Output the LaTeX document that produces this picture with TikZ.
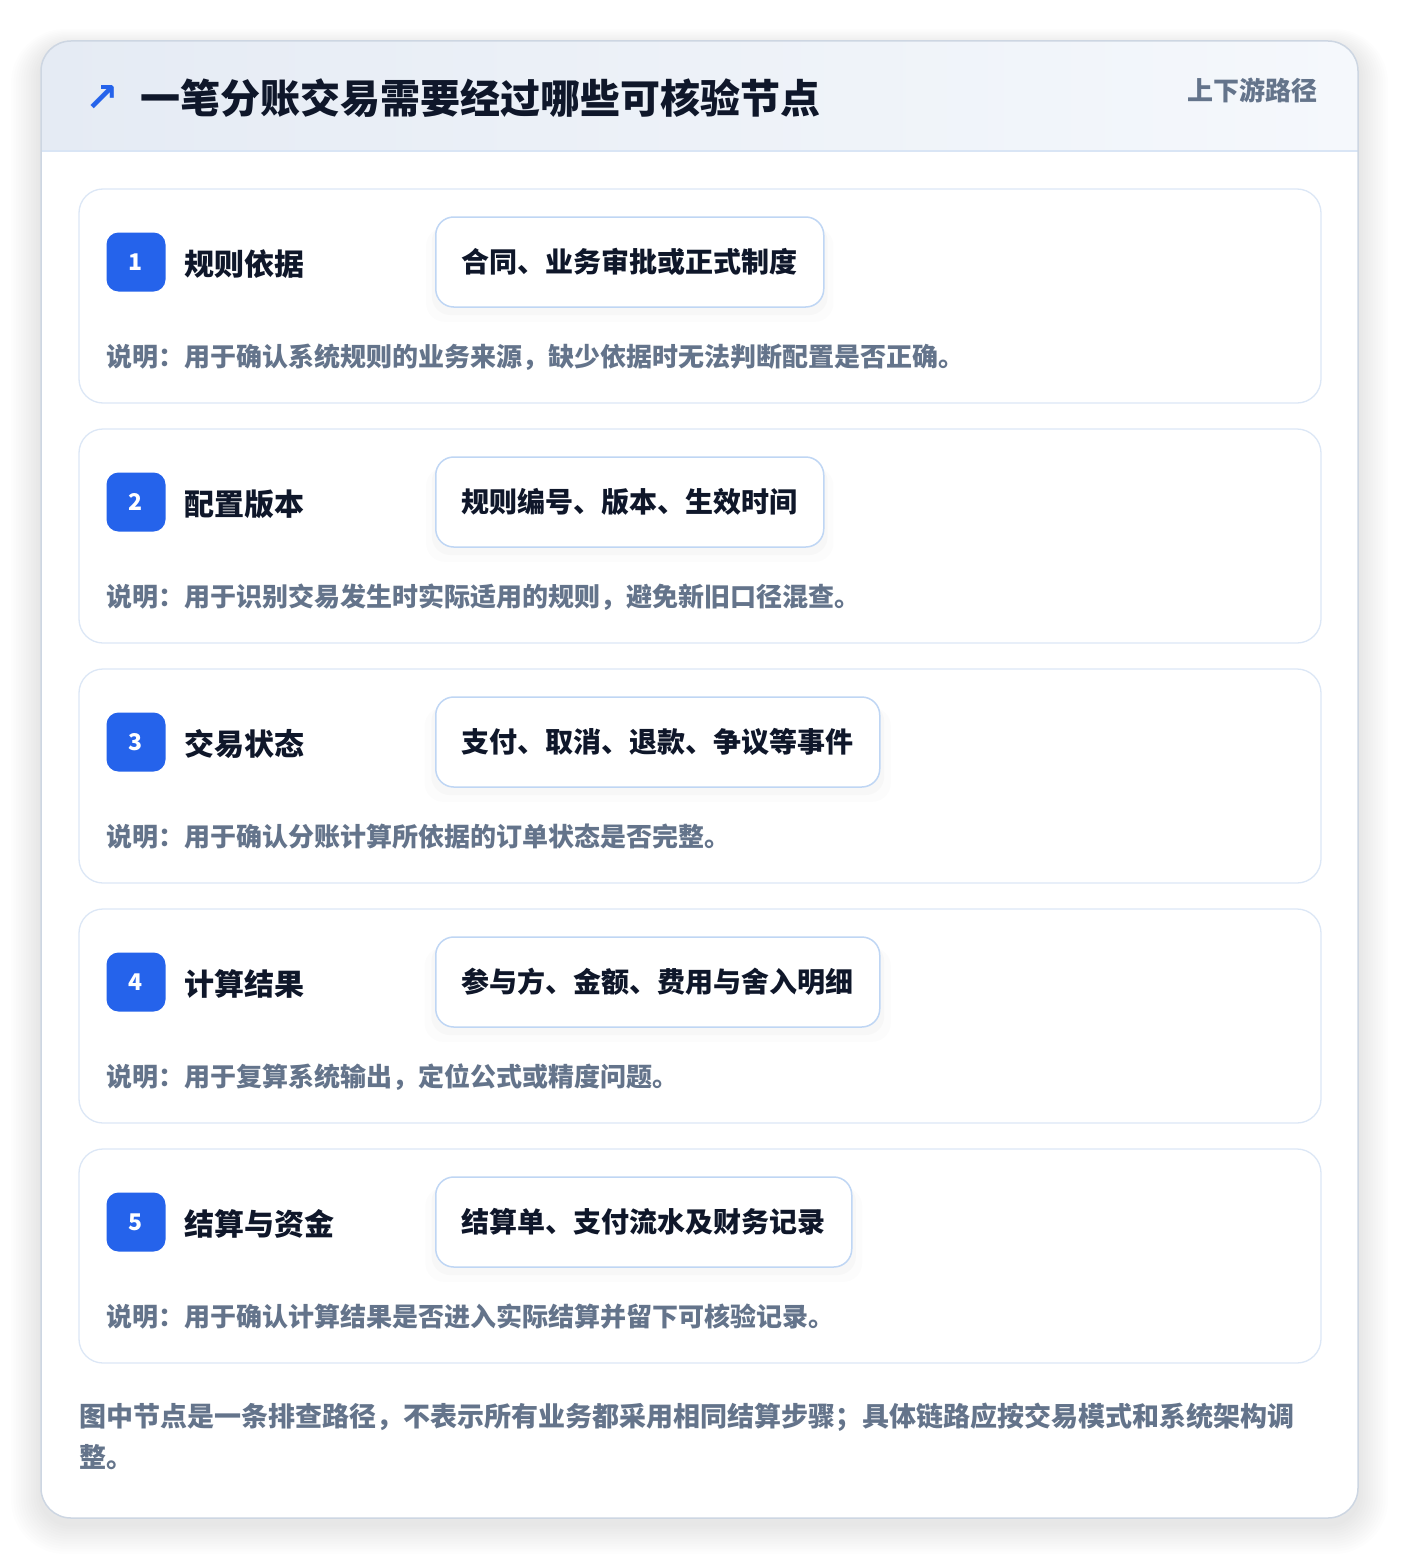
\documentclass[tikz,border=0pt]{standalone}
\usepackage{fontspec}
\setmainfont{Noto Sans CJK SC}
\newfontfamily\symfont{DejaVu Sans}
\usetikzlibrary{positioning,shadows}
\definecolor{brandblue}{HTML}{2563EB}
\definecolor{ink}{HTML}{0F172A}
\definecolor{muted}{HTML}{64748B}
\definecolor{cardline}{HTML}{DCE7F6}
\definecolor{pillline}{HTML}{BFD6F4}
\definecolor{outerline}{HTML}{CDD6E2}
\definecolor{hdrleft}{HTML}{E5EBF4}
\definecolor{hdrright}{HTML}{F5F8FC}
\definecolor{hdrline}{HTML}{D9E5F5}
\tikzset{
	% card and box styles ----------------------------------------
	outercard/.style={rounded corners=30pt},
	stepcard/.style={draw=cardline,fill=white,line width=1.3pt,rounded corners=24pt},
	badge/.style={fill=brandblue,rounded corners=12pt,minimum width=59pt,minimum height=59pt,inner sep=0pt,text=white,font=\fontsize{23}{23}\selectfont\bfseries},
	steplabel/.style={anchor=west,inner sep=0pt,text=ink,font=\fontsize{30}{36}\selectfont\bfseries},
	tagpill/.style={anchor=west,draw=pillline,fill=white,line width=1.5pt,rounded corners=18pt,minimum height=90pt,inner xsep=26pt,text=ink,font=\fontsize{28}{34}\selectfont\bfseries,
		drop shadow={shadow xshift=0pt,shadow yshift=-12pt,opacity=0.025,shadow scale=1.05},
		drop shadow={shadow xshift=0pt,shadow yshift=-7pt,opacity=0.035,shadow scale=1.02}},
	notetext/.style={anchor=west,inner sep=0pt,text=muted,font=\fontsize{26}{30}\selectfont\bfseries},
}
\begin{document}
\begin{tikzpicture}[x=1pt,y=-1pt]
	\useasboundingbox (0,0) rectangle (1400,1560);
	% soft shadow of the outer card
	\foreach \k in {1,...,12}
		\fill[black,opacity=0.006,rounded corners=30pt+\k*2pt] (41-\k*2.5,41-\k*1.5+6) rectangle (1358+\k*2.5,1518+\k*2.5+6);
	\fill[outercard,fill=white] (41,41) rectangle (1358,1518);
	\begin{scope}
		\clip[outercard] (41,41) rectangle (1358,1518);
		\shade[left color=hdrleft,right color=hdrright] (41,41) rectangle (1358,151);
		\draw[hdrline,line width=1.5pt] (41,151) -- (1358,151);
	\end{scope}
	\draw[outercard,draw=outerline,line width=1.5pt] (41,41) rectangle (1358,1518);
	% header
	\node[text=brandblue,inner sep=0pt,font=\symfont\bfseries\fontsize{40}{40}\selectfont] (icon) at (102,99) {↗};
	\node[anchor=west,inner sep=0pt,text=ink,font=\fontsize{40}{48}\selectfont\bfseries] (title) at (140,98) {一笔分账交易需要经过哪些可核验节点};
	\node[anchor=east,inner sep=0pt,text=muted,font=\fontsize{26}{30}\selectfont\bfseries] (scope) at (1318,90) {上下游路径};
	% step cards
	\foreach \i/\lab/\tag/\desc in {
		1/{规则依据}/{合同、业务审批或正式制度}/{说明：用于确认系统规则的业务来源，缺少依据时无法判断配置是否正确。},
		2/{配置版本}/{规则编号、版本、生效时间}/{说明：用于识别交易发生时实际适用的规则，避免新旧口径混查。},
		3/{交易状态}/{支付、取消、退款、争议等事件}/{说明：用于确认分账计算所依据的订单状态是否完整。},
		4/{计算结果}/{参与方、金额、费用与舍入明细}/{说明：用于复算系统输出，定位公式或精度问题。},
		5/{结算与资金}/{结算单、支付流水及财务记录}/{说明：用于确认计算结果是否进入实际结算并留下可核验记录。}}{
		\pgfmathsetmacro{\top}{189+240*(\i-1)}
		\draw[stepcard] (79,\top) rectangle (1321,\top+214);
		\node[badge] (badge-\i) at (136,\top+73) {\i};
		\node[steplabel] (label-\i) at (184,\top+75) {\lab};
		\node[tagpill] (tag-\i) at (435,\top+73) {\tag};
		\node[notetext] (note-\i) at (106,\top+168) {\desc};
	}
	% footer remark
	\node[anchor=west,inner sep=0pt,align=left,text=muted,font=\fontsize{27}{41}\selectfont\bfseries] (remark) at (79,1436) {图中节点是一条排查路径，不表示所有业务都采用相同结算步骤；具体链路应按交易模式和系统架构调\\整。};
\end{tikzpicture}
\end{document}
